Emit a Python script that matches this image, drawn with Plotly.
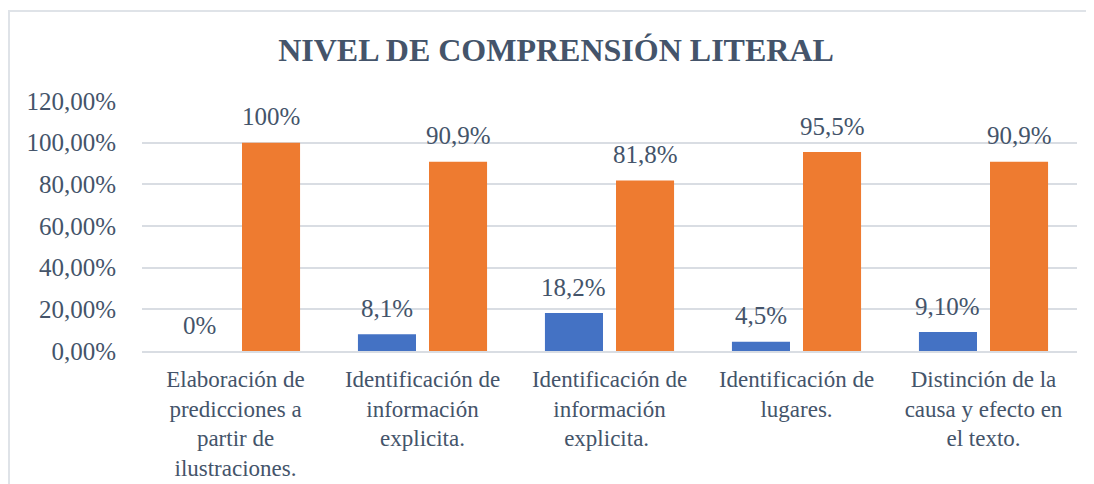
import plotly.graph_objects as go

categories = [
    "Elaboración de<br>predicciones a<br>partir de<br>ilustraciones.",
    "Identificación de<br>información<br>explicita.",
    "Identificación de<br>información<br>explicita. ",
    "Identificación de<br>lugares.",
    "Distinción de la<br>causa y efecto en<br>el texto.",
]
blue_values = [0, 8.1, 18.2, 4.5, 9.1]
blue_labels = ["0%", "8,1%", "18,2%", "4,5%", "9,10%"]
orange_values = [100, 90.9, 81.8, 95.5, 90.9]
orange_labels = ["100%", "90,9%", "81,8%", "95,5%", "90,9%"]
y_ticks = [0, 20, 40, 60, 80, 100, 120]
y_tick_labels = ["0,00%", "20,00%", "40,00%", "60,00%", "80,00%", "100,00%", "120,00%"]

FONT = "Liberation Serif, Times New Roman, serif"
TXT = "#44546a"

# plot area in figure px (page has an 8px body margin)
L, R, T, B = 134, 1069, 93, 343
W, H = R - L, B - T
BARGAP = 0.24
BARGROUPGAP = 0.183

fig = go.Figure()
fig.add_trace(go.Bar(
    x=categories, y=blue_values,
    marker=dict(color="#4472C4", line=dict(width=0)),
    name="Serie 1",
))
fig.add_trace(go.Bar(
    x=categories, y=orange_values,
    marker=dict(color="#EE7B30", line=dict(width=0)),
    name="Serie 2",
))

# data labels, placed over each bar of the group
slot_px = (1 - BARGAP) * (W / len(categories)) / 2
for values, labels, sign in [(blue_values, blue_labels, -1), (orange_values, orange_labels, 1)]:
    for cat, v, lab in zip(categories, values, labels):
        fig.add_annotation(
            x=cat, y=v, text=lab, showarrow=False,
            xshift=sign * slot_px / 2, yshift=26,
            xanchor="center", yanchor="middle",
            font=dict(family=FONT, size=25, color=TXT),
        )

fig.update_layout(
    width=1094, height=484,
    margin=dict(l=L, r=1094 - R, t=T, b=484 - B),
    paper_bgcolor="white", plot_bgcolor="white",
    barmode="group", bargap=BARGAP, bargroupgap=BARGROUPGAP,
    showlegend=False,
    title=dict(
        text="<b>NIVEL DE COMPRENSIÓN LITERAL</b>",
        font=dict(family=FONT, size=32, color=TXT),
        x=548 / 1094, xanchor="center", y=1 - 42 / 484, yanchor="middle",
    ),
    font=dict(family=FONT, color=TXT),
)
fig.update_yaxes(
    range=[0, 120], tickvals=y_ticks, ticktext=y_tick_labels,
    showgrid=True, gridcolor="#d9dde3", gridwidth=2,
    zeroline=False, showline=False, ticks="",
    ticklabelstandoff=25,
    tickfont=dict(family=FONT, size=25, color=TXT),
)
fig.update_xaxes(
    showgrid=False, showline=True, linecolor="#d9dde3", linewidth=2,
    ticks="", tickangle=0, ticklabelstandoff=6,
    tickfont=dict(family=FONT, size=23, color=TXT),
)
# chart frame
fig.add_shape(
    type="rect", xref="paper", yref="paper",
    x0=(1 - L) / W, x1=(1110 - L) / W,
    y0=(B - 500) / H, y1=(B - 3) / H,
    line=dict(color="#dfe3e8", width=2), fillcolor="rgba(0,0,0,0)",
    layer="below",
)

fig.write_html("out.html")
